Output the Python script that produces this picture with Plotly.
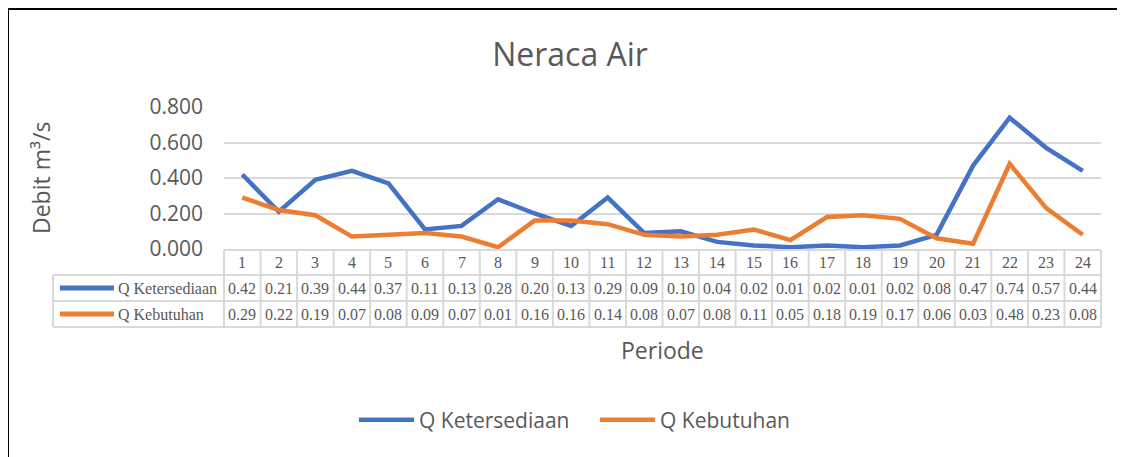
import plotly.graph_objects as go

# ---------------- data ----------------
periode = list(range(1, 25))
q_ketersediaan = [0.42, 0.21, 0.39, 0.44, 0.37, 0.11, 0.13, 0.28, 0.20, 0.13, 0.29, 0.09,
                  0.10, 0.04, 0.02, 0.01, 0.02, 0.01, 0.02, 0.08, 0.47, 0.74, 0.57, 0.44]
q_kebutuhan = [0.29, 0.22, 0.19, 0.07, 0.08, 0.09, 0.07, 0.01, 0.16, 0.16, 0.14, 0.08,
               0.07, 0.08, 0.11, 0.05, 0.18, 0.19, 0.17, 0.06, 0.03, 0.48, 0.23, 0.08]
series_names = ["Q Ketersediaan", "Q Kebutuhan"]
series_values = [q_ketersediaan, q_kebutuhan]
series_colors = ["#4472C4", "#ED7D31"]

# ---------------- layout constants ----------------
OFF = 8                      # page body margin
W, H = 1125 - OFF, 457 - OFF  # figure size
# plot area in screen pixels
SL, SR, ST, SB = 224, 1101, 107, 249
TEXT = "#595959"
GRID = "#d9d9d9"
SANS = "Open Sans"
SERIF = "Liberation Serif"


def px_x(sx):
    return (sx - SL) / (SR - SL)


def px_y(sy):
    return (SB - sy) / (SB - ST)


n = len(periode)


def cat_frac(edge):
    return (edge - 0.5) / n


fig = go.Figure()
for name, vals, col in zip(series_names, series_values, series_colors):
    fig.add_trace(go.Scatter(x=periode, y=vals, mode="lines", name=name,
                             line=dict(color=col, width=4.5)))

shapes = []
annotations = []

row_top, row1, row2, row_bot = 250, 275, 301, 327
label_left = 53
line_style = dict(color=GRID, width=2)

shapes.append(dict(type="line", xref="paper", yref="paper", x0=px_x(SL), x1=px_x(SR),
                   y0=px_y(row_top), y1=px_y(row_top), line=line_style))
for yy in (row1, row2, row_bot):
    shapes.append(dict(type="line", xref="paper", yref="paper", x0=px_x(label_left), x1=px_x(SR),
                       y0=px_y(yy), y1=px_y(yy), line=line_style))
shapes.append(dict(type="line", xref="paper", yref="paper", x0=px_x(label_left), x1=px_x(label_left),
                   y0=px_y(row1), y1=px_y(row_bot), line=line_style))
for k in range(n + 1):
    xf = cat_frac(k + 0.5)
    shapes.append(dict(type="line", xref="paper", yref="paper", x0=xf, x1=xf,
                       y0=px_y(row_top), y1=px_y(row_bot), line=line_style))

cell_font = dict(family=SERIF, size=16, color=TEXT)
for p in periode:
    annotations.append(dict(x=p, xref="x", y=px_y((row_top + row1) / 2), yref="paper",
                            xanchor="center", yanchor="middle",
                            text=str(p), showarrow=False, font=cell_font))

for r, (name, vals, col) in enumerate(zip(series_names, series_values, series_colors)):
    ytop, ybot = [(row1, row2), (row2, row_bot)][r]
    yc = px_y((ytop + ybot) / 2)
    shapes.append(dict(type="line", xref="paper", yref="paper", x0=px_x(60), x1=px_x(114),
                       y0=yc, y1=yc, line=dict(color=col, width=5)))
    annotations.append(dict(x=px_x(116), xref="paper", y=yc, yref="paper", text=name,
                            showarrow=False, xanchor="left", yanchor="middle", font=cell_font))
    for p, v in zip(periode, vals):
        annotations.append(dict(x=p, xref="x", y=yc, yref="paper", text=f"{v:.2f}",
                                xanchor="center", yanchor="middle",
                                showarrow=False, font=cell_font))

annotations.append(dict(x=px_x(41), xref="paper", y=px_y(178), yref="paper", text="Debit m³/s",
                        textangle=-90, showarrow=False, xanchor="center", yanchor="middle",
                        font=dict(family=SANS, size=23, color=TEXT)))
annotations.append(dict(x=0.5, xref="paper", y=px_y(350), yref="paper", text="Periode",
                        showarrow=False, xanchor="center", yanchor="middle",
                        font=dict(family=SANS, size=23, color=TEXT)))

# outer frame (left & top edges visible)
shapes.append(dict(type="line", xref="paper", yref="paper", x0=px_x(8), x1=px_x(1140),
                   y0=px_y(9), y1=px_y(9), line=dict(color="black", width=2)))
shapes.append(dict(type="line", xref="paper", yref="paper", x0=px_x(8), x1=px_x(8),
                   y0=px_y(9), y1=px_y(470), line=dict(color="black", width=2)))

fig.update_layout(
    width=W, height=H,
    margin=dict(l=SL - OFF, r=W - (SR - OFF), t=ST - OFF, b=H - (SB - OFF), autoexpand=False),
    paper_bgcolor="white", plot_bgcolor="white",
    title=dict(text="Neraca Air", x=px_x(570), xref="paper", xanchor="center",
               y=1 - (55 - OFF) / H, yanchor="middle",
               font=dict(family=SANS, size=32, color=TEXT)),
    xaxis=dict(range=[0.5, n + 0.5], showticklabels=False, showgrid=False, zeroline=False,
               showline=False, ticks="", fixedrange=True),
    yaxis=dict(range=[0, 0.8], dtick=0.2, tickformat=".3f", showgrid=True, gridcolor=GRID,
               gridwidth=1.5, zeroline=False, showline=False, ticks="",
               ticklabelstandoff=20,
               tickfont=dict(family=SANS, size=21, color=TEXT)),
    legend=dict(orientation="h", x=px_x(595), xanchor="center", y=px_y(420), yanchor="middle",
                font=dict(family=SANS, size=21, color=TEXT), itemwidth=55,
                entrywidth=171, bgcolor="rgba(0,0,0,0)"),
    shapes=shapes,
    annotations=annotations,
    showlegend=True,
)

fig.write_html("out.html")
